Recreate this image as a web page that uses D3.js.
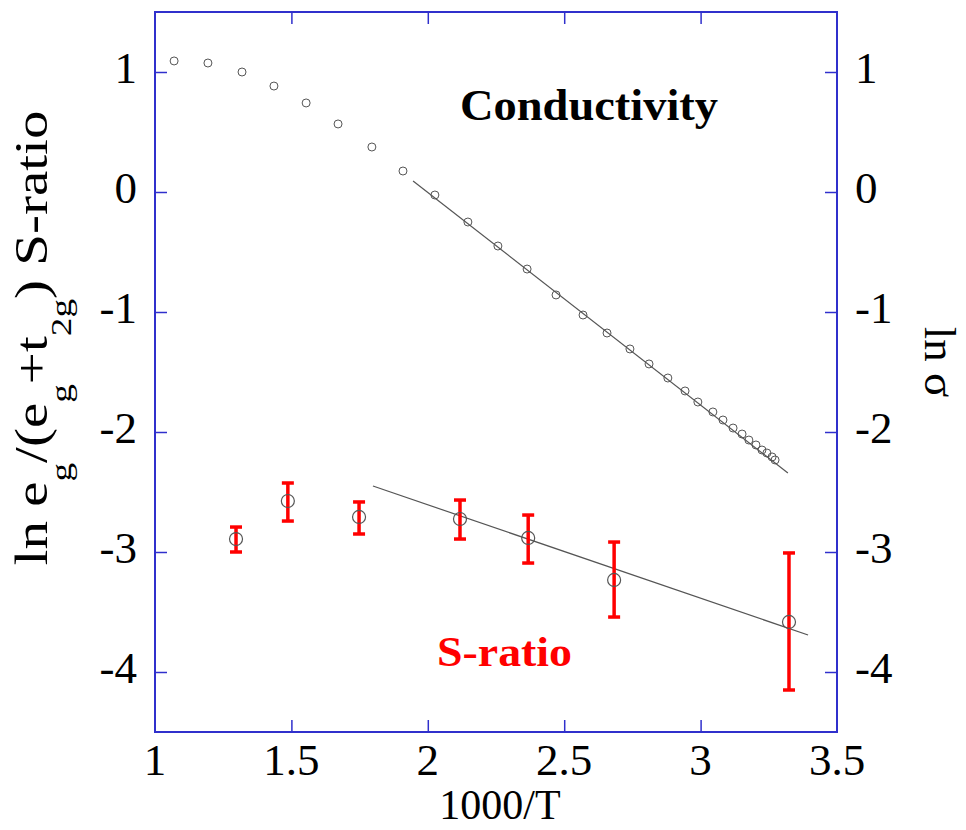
<!DOCTYPE html>
<html><head><meta charset="utf-8">
<script src="https://cdn.jsdelivr.net/npm/d3@7"></script>
<style>body{margin:0;background:#fff}svg{display:block}</style>
</head><body>
<script>
// ---- data ----
const condX = [1.070,1.194,1.319,1.436,1.554,1.671,1.795,1.909,2.026,2.147,2.257,2.364,2.470,2.569,2.657,2.741,2.811,2.880,2.943,2.990,3.045,3.082,3.119,3.152,3.177,3.203,3.225,3.243,3.262,3.273];
const condY = [1.092,1.075,1.000,0.883,0.742,0.567,0.375,0.175,-0.025,-0.250,-0.450,-0.642,-0.858,-1.025,-1.175,-1.308,-1.433,-1.550,-1.658,-1.750,-1.833,-1.900,-1.967,-2.017,-2.067,-2.108,-2.150,-2.175,-2.208,-2.233];
const condFitX = [1.946, 3.320];
const condFitY = [0.092, -2.342];
const sX    = [1.297,1.487,1.748,2.118,2.368,2.683,3.324];
const sY    = [-2.892,-2.575,-2.708,-2.725,-2.883,-3.233,-3.583];
const sHi   = [-2.792,-2.425,-2.583,-2.567,-2.692,-2.917,-3.008];
const sLo   = [-3.000,-2.742,-2.850,-2.892,-3.092,-3.542,-4.150];
const sFitX = [1.799, 3.394];
const sFitY = [-2.450, -3.692];
const xTicks = [1,1.5,2,2.5,3,3.5];
const yTicks = [-4,-3,-2,-1,0,1];

const W=966,H=830;
const L=155,R=837,T=12,B=732;
const FONT="'Liberation Serif','Times New Roman',serif";
const frameColor="#3030cc";

const svg=d3.select("body").append("svg").attr("width",W).attr("height",H);
const x=d3.scaleLinear().domain([1,3.5]).range([L,R]);
const y=d3.scaleLinear().domain([-4.5,1.5]).range([B,T]);

// frame & ticks
const g=svg.append("g");
const inner=[1.5,2,2.5,3];
g.append("g").attr("transform",`translate(0,${B})`).call(d3.axisBottom(x).tickValues(inner).tickSize(-12).tickFormat(""));
g.append("g").attr("transform",`translate(0,${T})`).call(d3.axisTop(x).tickValues(inner).tickSize(-12).tickFormat(""));
g.append("g").attr("transform",`translate(${L},0)`).call(d3.axisLeft(y).tickValues(yTicks).tickSize(-12).tickFormat(""));
g.append("g").attr("transform",`translate(${R},0)`).call(d3.axisRight(y).tickValues(yTicks).tickSize(-12).tickFormat(""));
g.selectAll(".domain").remove();
g.selectAll(".tick line").attr("stroke",frameColor).attr("stroke-width",1.5);
svg.append("rect").attr("x",L).attr("y",T).attr("width",R-L).attr("height",B-T)
  .attr("fill","none").attr("stroke",frameColor).attr("stroke-width",2);

// tick labels
const tl=svg.append("g").attr("font-family",FONT).attr("font-size",45).attr("fill","#000");
tl.selectAll(".xl").data(xTicks).join("text").attr("x",d=>x(d)).attr("y",B+43)
  .attr("text-anchor","middle").text(d=>d);
tl.selectAll(".yl").data(yTicks).join("text").attr("x",L-18).attr("y",d=>y(d)+11)
  .attr("text-anchor","end").text(d=>d);
tl.selectAll(".yr").data(yTicks).join("text").attr("x",R+18).attr("y",d=>y(d)+11)
  .attr("text-anchor","start").text(d=>d);

// axis titles
svg.append("text").attr("x",500).attr("y",819).attr("text-anchor","middle")
  .attr("font-family",FONT).attr("font-size",42).text("1000/T");

const yl=svg.append("text").attr("font-family",FONT).attr("font-size",46)
  .attr("text-anchor","middle").attr("transform","translate(47,338) rotate(-90) scale(1.24,1)");
yl.append("tspan").text("ln e");
yl.append("tspan").attr("font-size",30).attr("dy",24).text("g");
yl.append("tspan").attr("dy",-24).text("/(e");
yl.append("tspan").attr("font-size",30).attr("dy",24).text("g");
yl.append("tspan").attr("dy",-24).text("+t");
yl.append("tspan").attr("font-size",30).attr("dy",24).text("2g");
yl.append("tspan").attr("dy",-24).text(") S-ratio");

svg.append("text").attr("font-family",FONT).attr("font-size",45).attr("text-anchor","middle")
  .attr("transform","translate(925,362) rotate(90)").text("ln σ");

// fit lines
const line=d3.line().x(d=>x(d[0])).y(d=>y(d[1]));
svg.append("path").datum(d3.zip(condFitX,condFitY)).attr("d",line)
  .attr("fill","none").attr("stroke","#555").attr("stroke-width",1.2);
svg.append("path").datum(d3.zip(sFitX,sFitY)).attr("d",line)
  .attr("fill","none").attr("stroke","#555").attr("stroke-width",1.2);

// conductivity points
svg.append("g").selectAll("circle").data(d3.zip(condX,condY)).join("circle")
  .attr("cx",d=>x(d[0])).attr("cy",d=>y(d[1])).attr("r",4)
  .attr("fill","none").attr("stroke","#555").attr("stroke-width",1);

// S-ratio error bars
const sData=sX.map((v,i)=>({x:v,y:sY[i],hi:sHi[i],lo:sLo[i]}));
const eb=svg.append("g").attr("stroke","#f00").attr("stroke-width",3.5);
eb.selectAll(".v").data(sData).join("line").attr("x1",d=>x(d.x)).attr("x2",d=>x(d.x))
  .attr("y1",d=>y(d.hi)).attr("y2",d=>y(d.lo));
eb.selectAll(".t").data(sData).join("line").attr("x1",d=>x(d.x)-6).attr("x2",d=>x(d.x)+6)
  .attr("y1",d=>y(d.hi)).attr("y2",d=>y(d.hi));
eb.selectAll(".b").data(sData).join("line").attr("x1",d=>x(d.x)-6).attr("x2",d=>x(d.x)+6)
  .attr("y1",d=>y(d.lo)).attr("y2",d=>y(d.lo));
svg.append("g").selectAll("circle").data(sData).join("circle")
  .attr("cx",d=>x(d.x)).attr("cy",d=>y(d.y)).attr("r",6.5)
  .attr("fill","none").attr("stroke","#555").attr("stroke-width",1.2);

// annotations
svg.append("text").attr("x",460).attr("y",120).attr("font-family",FONT).attr("font-weight","bold")
  .attr("font-size",44).attr("textLength",258).attr("lengthAdjust","spacingAndGlyphs").text("Conductivity");
svg.append("text").attr("x",437).attr("y",666).attr("font-family",FONT).attr("font-weight","bold")
  .attr("font-size",43).attr("fill","#f00").attr("textLength",135).attr("lengthAdjust","spacingAndGlyphs").text("S-ratio");
</script>
</body></html>
